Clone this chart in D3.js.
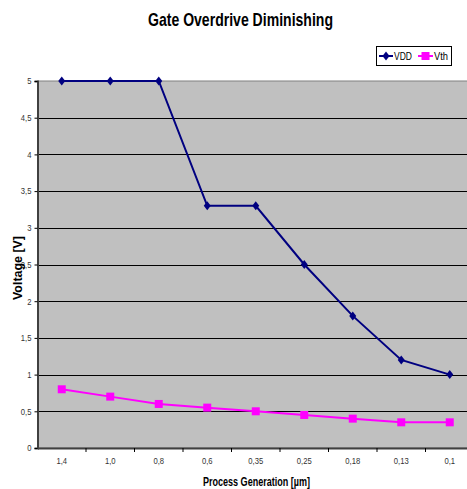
<!DOCTYPE html>
<html><head><meta charset="utf-8">
<script src="https://cdn.jsdelivr.net/npm/d3@7"></script>
<style>
body{margin:0;background:#fff;}
svg{display:block;}
text{font-family:"Liberation Sans Narrow","Arial Narrow","Liberation Sans",Arial,sans-serif;}
</style></head><body>
<svg id="c" width="467" height="489"></svg>
<script>
const categories = ["1,4","1,0","0,8","0,6","0,35","0,25","0,18","0,13","0,1"];
const vdd = [5,5,5,3.3,3.3,2.5,1.8,1.2,1.0];
const vth = [0.8,0.7,0.6,0.55,0.5,0.45,0.4,0.35,0.35];
const yTicks = [0,0.5,1,1.5,2,2.5,3,3.5,4,4.5,5];

const svg = d3.select("#c");
const L = 37.5, T = 81, B = 448, R = 474;
const x = d3.scaleBand().domain(categories).range([L, R]);
const y = d3.scaleLinear().domain([0,5]).range([B, T]);
const fmt = v => String(v).replace(".", ",");

svg.append("rect").attr("x",L).attr("y",T).attr("width",R-L).attr("height",B-T).attr("fill","#C0C0C0").attr("stroke","#808080").attr("stroke-width",1);

svg.append("g").selectAll("line").data(yTicks.filter(v=>v>0&&v<5)).join("line")
  .attr("x1",L).attr("x2",R).attr("y1",d=>Math.round(y(d))+0.5).attr("y2",d=>Math.round(y(d))+0.5)
  .attr("stroke","#000").attr("stroke-width",1);

// y axis
const ya = svg.append("g").attr("transform",`translate(${L},0)`)
  .call(d3.axisLeft(y).tickValues(yTicks).tickFormat(fmt).tickSize(3).tickPadding(3));
ya.select(".domain").attr("stroke","#404040").attr("stroke-width",2);
ya.selectAll(".tick line").attr("stroke","#000");
ya.selectAll("text").attr("font-size",9).attr("fill","#333")
  .attr("transform","scale(0.85,1)").attr("x",-6/0.85);

// x axis
const xa = svg.append("g").attr("transform",`translate(0,${B})`)
  .call(d3.axisBottom(x).tickSize(0).tickPadding(10));
xa.select(".domain").attr("stroke","#404040").attr("stroke-width",2);
xa.selectAll("text").attr("font-size",9).attr("fill","#333")
  .each(function(){ const t=d3.select(this); t.attr("textLength", this.getComputedTextLength()*0.85).attr("lengthAdjust","spacingAndGlyphs"); });
svg.append("g").selectAll("line").data(categories.slice(1)).join("line")
  .attr("x1",d=>x(d)).attr("x2",d=>x(d)).attr("y1",B).attr("y2",B+4).attr("stroke","#000");

const line = d3.line().x((d,i)=>x(categories[i])+x.bandwidth()/2).y(d=>y(d));
svg.append("path").datum(vdd).attr("d",line).attr("fill","none").attr("stroke","#000080").attr("stroke-width",2);
svg.append("path").datum(vth).attr("d",line).attr("fill","none").attr("stroke","#FF00FF").attr("stroke-width",2);

svg.append("g").selectAll("path").data(vdd).join("path")
  .attr("transform",(d,i)=>`translate(${x(categories[i])+x.bandwidth()/2},${y(d)})`)
  .attr("d","M0,-4.5L3.5,0L0,4.5L-3.5,0Z").attr("fill","#000080");
svg.append("g").selectAll("rect").data(vth).join("rect")
  .attr("x",(d,i)=>x(categories[i])+x.bandwidth()/2-4).attr("y",d=>y(d)-4)
  .attr("width",8).attr("height",8).attr("fill","#FF00FF");

// title & axis labels
svg.append("text").attr("x",240.5).attr("y",26).attr("text-anchor","middle")
  .attr("font-size",19).attr("font-weight","bold").attr("textLength",185).attr("lengthAdjust","spacingAndGlyphs")
  .text("Gate Overdrive Diminishing");
svg.append("text").attr("x",256.5).attr("y",486).attr("text-anchor","middle")
  .attr("font-size",12).attr("font-weight","bold").attr("textLength",107).attr("lengthAdjust","spacingAndGlyphs")
  .text("Process Generation [µm]");
svg.append("text").attr("transform","translate(22,268) rotate(-90)").attr("text-anchor","middle")
  .attr("font-size",13).attr("font-weight","bold").attr("textLength",64).attr("lengthAdjust","spacingAndGlyphs")
  .text("Voltage [V]");

// legend
const lg = svg.append("g");
lg.append("rect").attr("x",376.5).attr("y",46.5).attr("width",75).attr("height",19).attr("fill","#fff").attr("stroke","#000");
lg.append("line").attr("x1",379).attr("x2",393).attr("y1",56).attr("y2",56).attr("stroke","#000080").attr("stroke-width",2);
lg.append("path").attr("transform","translate(386,56)").attr("d","M0,-4.5L3.5,0L0,4.5L-3.5,0Z").attr("fill","#000080");
lg.append("text").attr("x",394).attr("y",60).attr("font-size",11).attr("textLength",18).attr("lengthAdjust","spacingAndGlyphs").text("VDD");
lg.append("line").attr("x1",418).attr("x2",433).attr("y1",56).attr("y2",56).attr("stroke","#FF00FF").attr("stroke-width",2);
lg.append("rect").attr("x",421.5).attr("y",52).attr("width",8).attr("height",8).attr("fill","#FF00FF");
lg.append("text").attr("x",434).attr("y",60).attr("font-size",11).attr("textLength",14).attr("lengthAdjust","spacingAndGlyphs").text("Vth");
</script>
</body></html>
